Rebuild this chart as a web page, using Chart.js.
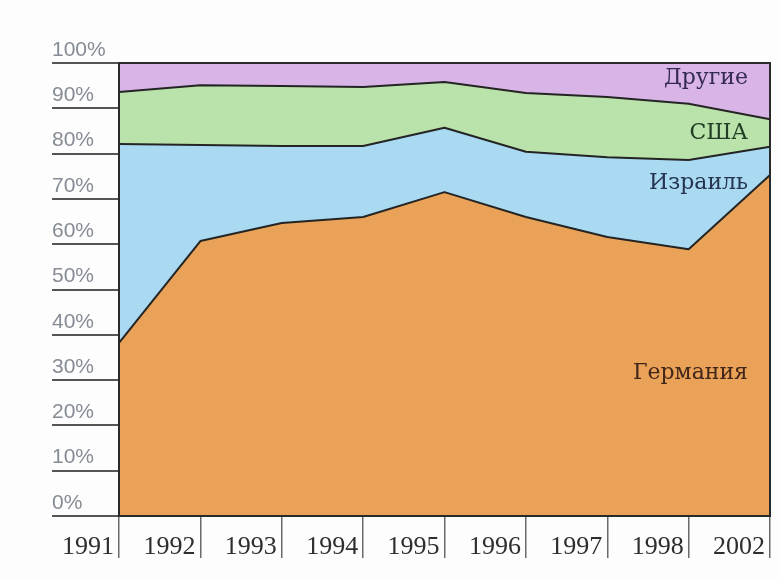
<!DOCTYPE html>
<html>
<head>
<meta charset="utf-8">
<script src="https://cdn.jsdelivr.net/npm/chart.js@4.4.0/dist/chart.umd.min.js"></script>
<style>
  html, body { margin: 0; padding: 0; background: #fdfdfd; }
  #wrap { width: 781px; height: 578px; position: relative; }
</style>
</head>
<body>
<div id="wrap"><canvas id="c" width="781" height="578"></canvas></div>
<script>
// ---- data ----
const years = ['1991', '1992', '1993', '1994', '1995', '1996', '1997', '1998', '2002'];
const germany = [38.2, 60.7, 64.7, 66.0, 71.5, 66.0, 61.6, 58.9, 75.3];
const israel  = [43.9, 21.2, 17.0, 15.7, 14.2, 14.4, 17.6, 19.7, 6.2];
const usa     = [11.5, 13.2, 13.2, 13.0, 10.1, 13.0, 13.3, 12.4, 6.1];
const others  = [6.4, 4.9, 5.1, 5.3, 4.2, 6.6, 7.5, 9.0, 12.4];
const seriesNames = ['Германия', 'Израиль', 'США', 'Другие'];
const seriesLabelLevels = [31.6, 73.5, 84.5, 96.7];
const yTickStep = 10;

// ---- styles ----
const fills = ['#e9a257', '#a9daf2', '#bae2ab', '#d9b4e6'];
const labelColors = ['#42261a', '#26344f', '#223e25', '#342a52'];

const seriesValues = [germany, israel, usa, others];
const datasets = seriesValues.map((vals, i) => ({
  label: seriesNames[i],
  data: vals,
  backgroundColor: fills[i],
  borderColor: '#242424',
  borderWidth: 2,
  pointRadius: 0,
  tension: 0,
  fill: i === 0 ? 'origin' : '-1'
}));

const framePlugin = {
  id: 'frame',
  afterDatasetsDraw(chart) {
    const { ctx, chartArea: a, scales } = chart;
    ctx.save();
    ctx.strokeStyle = '#2a2a2a';
    ctx.lineWidth = 2;
    ctx.strokeRect(a.left, a.top, a.right - a.left, a.bottom - a.top);
    ctx.font = '22px "DejaVu Serif", "Liberation Serif", serif';
    ctx.textAlign = 'right';
    ctx.textBaseline = 'middle';
    seriesNames.forEach((name, i) => {
      ctx.fillStyle = labelColors[i];
      ctx.fillText(name, a.right - 22, scales.y.getPixelForValue(seriesLabelLevels[i]));
    });
    ctx.restore();
  }
};

new Chart(document.getElementById('c'), {
  type: 'line',
  data: { labels: years, datasets },
  options: {
    responsive: false,
    animation: false,
    layout: { padding: { left: 52, right: 11, top: 63, bottom: 17 } },
    plugins: { legend: { display: false }, tooltip: { enabled: false } },
    elements: { line: { borderJoinStyle: 'round' } },
    scales: {
      x: {
        type: 'category',
        offset: false,
        grid: { drawOnChartArea: false, drawTicks: true, tickLength: 42, color: '#6a6a6a', lineWidth: 1.5, offset: false },
        border: { display: true, color: '#2a2a2a', width: 2 },
        ticks: {
          autoSkip: false, maxRotation: 0, minRotation: 0,
          align: 'end', labelOffset: -5, padding: -26,
          color: '#2e2e2e',
          font: { family: '"Liberation Serif", "DejaVu Serif", serif', size: 26 }
        },
        afterFit(s) { s.height = 45; }
      },
      y: {
        type: 'linear',
        stacked: true,
        min: 0, max: 100,
        grid: { drawOnChartArea: false, drawTicks: true, tickLength: 67, color: '#555555', lineWidth: 2 },
        border: { display: true, color: '#2a2a2a', width: 2 },
        ticks: {
          stepSize: yTickStep,
          crossAlign: 'far',
          labelOffset: -13,
          padding: 0,
          color: '#868c96',
          font: { family: '"Liberation Sans", Arial, sans-serif', size: 21 },
          callback: v => v + '%'
        },
        afterFit(s) { s.width = 67; }
      }
    }
  },
  plugins: [framePlugin]
});
</script>
</body>
</html>
